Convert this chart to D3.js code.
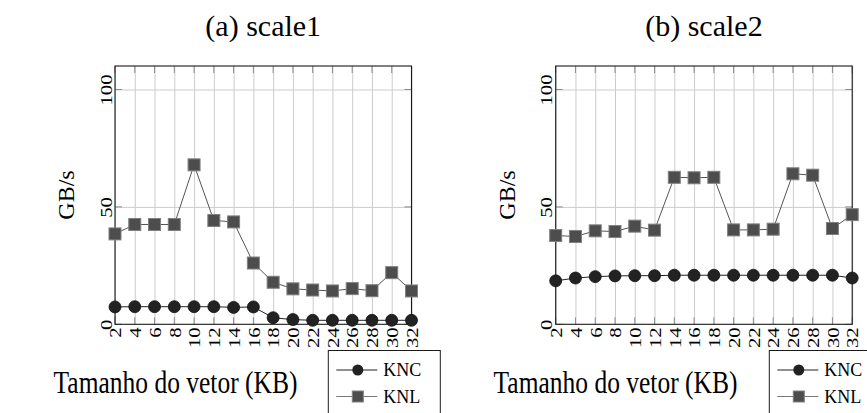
<!DOCTYPE html>
<html><head><meta charset="utf-8">
<script src="https://cdn.jsdelivr.net/npm/d3@7/dist/d3.min.js"></script>
<style>
body{margin:0;background:#fff}
text{font-family:"Liberation Serif","Times New Roman",serif;fill:#000}
</style>
</head><body>
<svg id="c" width="867" height="413"></svg>
<script>
const sizes = [2,4,6,8,10,12,14,16,18,20,22,24,26,28,30,32];
const yTicks = [0,50,100];
const titles = ["(a) scale1","(b) scale2"];
const seriesNames = ["KNC","KNL"];
const yLabel = "GB/s";
const xLabel = "Tamanho do vetor (KB)";
const kncScale1 = [7.4,7.5,7.5,7.5,7.5,7.5,7.2,7.4,2.8,2.0,1.7,1.7,1.7,1.7,1.7,1.7];
const knlScale1 = [38.5,42.5,42.5,42.5,67.9,44.2,43.6,26.1,17.9,15.1,14.6,14.2,15.2,14.3,22.0,14.2];
const kncScale2 = [18.5,19.7,20.3,20.6,20.7,20.7,20.9,20.9,20.9,20.9,20.9,20.9,20.9,20.9,20.9,19.7];
const knlScale2 = [37.8,37.4,39.8,39.5,41.8,40.1,62.6,62.4,62.6,40.2,40.2,40.5,64.1,63.5,40.8,46.7];

const svg = d3.select("#c");
const W = 296.5, TOP = 66, BOTTOM = 324.3;

function panel(x0, title, knc, knl, xLabCx, legX) {
  const x = d3.scaleLinear().domain([2,32]).range([x0, x0+W]);
  const y = d3.scaleLinear().domain([0,110]).range([BOTTOM, TOP]);
  const g = svg.append("g");

  // vertical grid + tick labels
  const gx = g.append("g").attr("transform",`translate(0,${BOTTOM})`)
    .call(d3.axisBottom(x).tickValues(sizes).tickSize(-(BOTTOM-TOP)).tickFormat(d3.format("d")));
  gx.select(".domain").remove();
  gx.selectAll(".tick line").attr("stroke","#cccccc").attr("stroke-width",1);
  gx.selectAll(".tick text")
    .attr("transform","rotate(-90) scale(1.22,1)")
    .attr("text-anchor","end").attr("x",-2.5).attr("y",0).attr("dy","0.34em")
    .style("font-size","17px").style("font-family",'"Liberation Serif",serif');
  // horizontal grid + labels
  const gy = g.append("g").attr("transform",`translate(${x0},0)`)
    .call(d3.axisLeft(y).tickValues(yTicks).tickSize(-W).tickFormat(d3.format("d")));
  gy.select(".domain").remove();
  gy.selectAll(".tick line").attr("stroke",d=>d===0?"none":"#cccccc");
  gy.selectAll(".tick text")
    .attr("transform","rotate(-90) scale(1.22,1)")
    .attr("text-anchor","middle").attr("x",0).attr("y",-3.5).attr("dy","0")
    .style("font-size","17px").style("font-family",'"Liberation Serif",serif');

  // inner tick marks
  const tl = 7;
  const tk = g.append("g").attr("stroke","#8c8c8c").attr("stroke-width",1);
  tk.selectAll(".tb").data(sizes).join("line")
    .attr("x1",d=>x(d)).attr("x2",d=>x(d)).attr("y1",BOTTOM).attr("y2",BOTTOM-tl);
  tk.selectAll(".tt").data(sizes).join("line")
    .attr("x1",d=>x(d)).attr("x2",d=>x(d)).attr("y1",TOP).attr("y2",TOP+tl);
  tk.selectAll(".tl").data(yTicks).join("line")
    .attr("x1",x0).attr("x2",x0+tl).attr("y1",d=>y(d)).attr("y2",d=>y(d));
  tk.selectAll(".tr").data(yTicks).join("line")
    .attr("x1",x0+W).attr("x2",x0+W-tl).attr("y1",d=>y(d)).attr("y2",d=>y(d));

  // frame
  g.append("rect").attr("x",x0).attr("y",TOP).attr("width",W).attr("height",BOTTOM-TOP)
    .attr("fill","none").attr("stroke","#1a1a1a").attr("stroke-width",1.1);

  // lines
  const line = d3.line().x((d,i)=>x(sizes[i])).y(d=>y(d));
  g.append("path").attr("d",line(knl)).attr("fill","none").attr("stroke","#555").attr("stroke-width",1);
  g.append("path").attr("d",line(knc)).attr("fill","none").attr("stroke","#222").attr("stroke-width",1);
  // markers
  const s = 12;
  g.selectAll(".sq").data(knl).join("rect")
    .attr("x",(d,i)=>x(sizes[i])-s/2).attr("y",d=>y(d)-s/2).attr("width",s).attr("height",s)
    .attr("fill","#4d4d4d").attr("stroke","#808080").attr("stroke-width",1);
  g.selectAll(".ci").data(knc).join("circle")
    .attr("cx",(d,i)=>x(sizes[i])).attr("cy",d=>y(d)).attr("r",6)
    .attr("fill","#222").attr("stroke","#111").attr("stroke-width",0.8);

  // title
  g.append("text").attr("x",x0+W/2).attr("y",36).attr("text-anchor","middle")
    .style("font-size","30px").text(title);
  // y label
  g.append("text").attr("transform",`translate(${x0-41},195) rotate(-90)`)
    .attr("text-anchor","middle").style("font-size","24px").text(yLabel);
  // x label
  g.append("text").attr("transform",`translate(${xLabCx},393) scale(1,1.2)`)
    .attr("text-anchor","middle").style("font-size","25.5px").text(xLabel);

  // legend
  const lg = g.append("g").attr("transform",`translate(${legX},350.5)`);
  lg.append("rect").attr("x",0).attr("y",0).attr("width",112).attr("height",80)
    .attr("fill","#fff").attr("stroke","#1a1a1a").attr("stroke-width",1);
  const rows = [19.5,46];
  lg.append("line").attr("x1",8).attr("x2",49).attr("y1",rows[0]).attr("y2",rows[0]).attr("stroke","#222");
  lg.append("circle").attr("cx",29.5).attr("cy",rows[0]).attr("r",5.5).attr("fill","#222");
  lg.append("line").attr("x1",8).attr("x2",49).attr("y1",rows[1]).attr("y2",rows[1]).attr("stroke","#777");
  lg.append("rect").attr("x",29.5-5.5).attr("y",rows[1]-5.5).attr("width",11).attr("height",11)
    .attr("fill","#4d4d4d").attr("stroke","#808080");
  lg.selectAll(".lt").data(seriesNames).join("text")
    .attr("x",55).attr("y",(d,i)=>rows[i]+6).style("font-size","18px").text(d=>d);
}

panel(115, titles[0], kncScale1, knlScale1, 175.5, 328.3);
panel(555.7, titles[1], kncScale2, knlScale2, 615.5, 769.3);
</script>
</body></html>
